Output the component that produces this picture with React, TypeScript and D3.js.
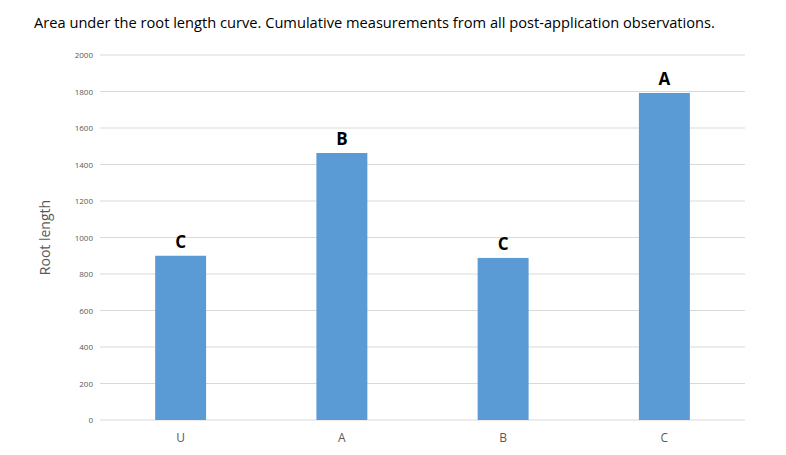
import * as d3 from 'd3'

const categories = ['U', 'A', 'B', 'C']
const values = [900, 1463, 888, 1792]
const letters = ['C', 'B', 'C', 'A']
const yTicks = [0, 200, 400, 600, 800, 1000, 1200, 1400, 1600, 1800, 2000]

const W = 786
const H = 455
const left = 100
const right = 745
const top = 55
const bottom = 420

export default function App() {
  const x = d3.scaleBand<string>().domain(categories).range([left, right]).paddingInner(0.684).paddingOuter(0.342)
  const y = d3.scaleLinear().domain([0, 2000]).range([bottom, top])

  return (
    <svg width={W} height={H} style={{ position: 'absolute', left: 0, top: 0, background: '#fff' }}>
      <text x={34} y={28} fontFamily="'Open Sans', sans-serif" fontSize={14.65} fill="#000">
        Area under the root length curve. Cumulative measurements from all post-application observations.
      </text>
      {yTicks.map((t) => (
        <g key={t}>
          <line x1={left} x2={right} y1={y(t)} y2={y(t)} stroke="#d9d9d9" strokeWidth={1} />
          <text x={93} y={y(t) + 3} textAnchor="end" fontFamily="'Open Sans', sans-serif" fontSize={8} fill="#595959">
            {t}
          </text>
        </g>
      ))}
      <text
        transform={`translate(50,${(top + bottom) / 2}) rotate(-90)`}
        textAnchor="middle"
        fontFamily="'Open Sans', sans-serif"
        fontSize={14}
        fill="#595959"
      >
        Root length
      </text>
      {categories.map((c, i) => (
        <g key={c}>
          <rect x={x(c)} y={y(values[i])} width={x.bandwidth()} height={bottom - y(values[i])} fill="#5b9bd5" />
          <text
            x={(x(c) ?? 0) + x.bandwidth() / 2}
            y={y(values[i]) - 8}
            textAnchor="middle"
            fontFamily="'Open Sans', sans-serif"
            fontWeight="bold"
            fontSize={17}
            fill="#000"
          >
            {letters[i]}
          </text>
          <text
            x={(x(c) ?? 0) + x.bandwidth() / 2}
            y={442}
            textAnchor="middle"
            fontFamily="'Open Sans', sans-serif"
            fontSize={12}
            fill="#595959"
          >
            {c}
          </text>
        </g>
      ))}
    </svg>
  )
}
